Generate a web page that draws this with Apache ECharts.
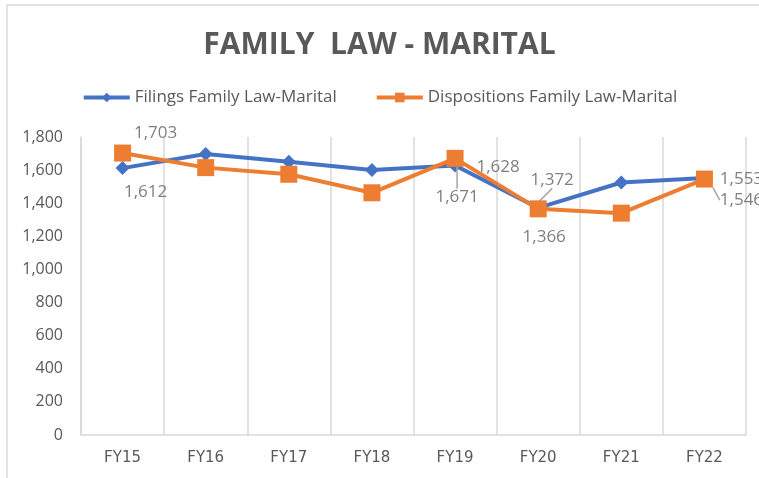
<!DOCTYPE html>
<html lang="en">
<head>
    <meta charset="utf-8">
    <title>Family Law - Marital</title>
    <script src="https://cdn.jsdelivr.net/npm/echarts@6/dist/echarts.min.js"></script>
    <style>
        html, body { margin: 0; padding: 0; background: #fff; }
    </style>
</head>
<body>
<div id="main" style="width: 759px;height:478px"></div>
<script>
    // data
    var categories = ['FY15', 'FY16', 'FY17', 'FY18', 'FY19', 'FY20', 'FY21', 'FY22'];
    var filings = [1612, 1697, 1651, 1601, 1628, 1372, 1525, 1553];
    var dispositions = [1703, 1615, 1575, 1463, 1671, 1366, 1340, 1546];
    var yTicks = [0, 200, 400, 600, 800, 1000, 1200, 1400, 1600, 1800];

    // which points carry a value label, and where the label sits (offset from the point)
    var filingLabels = {
        0: { dx: 23, dy: 24 },
        4: { dx: 43, dy: 2 },
        5: { dx: 14, dy: -28, line: true },
        7: { dx: 37, dy: 1 }
    };
    var dispLabels = {
        0: { dx: 33, dy: -20 },
        4: { dx: 2, dy: 39, line: true },
        5: { dx: 6, dy: 28 },
        7: { dx: 37, dy: 21, line: true }
    };

    var labelColor = '#7f7f7f';
    var textColor = '#595959';
    var gridColor = '#d9d9d9';

    function buildData(values, labels) {
        return values.map(function (v, i) {
            var l = labels[i];
            return {
                value: v,
                label: { show: !!l },
                labelLine: { show: !!(l && l.line) }
            };
        });
    }

    function layoutFor(labels) {
        return function (params) {
            var l = labels[params.dataIndex];
            if (!l) return {};
            return { dx: l.dx, dy: l.dy };
        };
    }

    var labelStyle = {
        position: 'inside',
        color: labelColor,
        fontSize: 17,
        fontFamily: 'Open Sans',
        formatter: function (p) { return p.value.toLocaleString('en-US'); }
    };

    var chart = echarts.init(document.getElementById('main'));
    var option = {
        backgroundColor: '#fff',
        animation: false,
        title: {
            text: 'FAMILY  LAW - MARITAL',
            left: 'center',
            top: 25,
            textStyle: {
                color: textColor,
                fontSize: 30,
                fontWeight: 'bold',
                fontFamily: 'Open Sans'
            }
        },
        legend: {
            top: 84,
            left: 'center',
            itemGap: 38,
            itemWidth: 46,
            itemHeight: 12,
            lineStyle: { width: 4 },
            textStyle: { color: textColor, fontSize: 17, fontFamily: 'Open Sans' },
            data: ['Filings Family Law-Marital', 'Dispositions Family Law-Marital']
        },
        grid: { left: 81, right: 13, top: 137, bottom: 43 },
        xAxis: {
            type: 'category',
            data: categories,
            boundaryGap: true,
            axisLine: { lineStyle: { color: gridColor, width: 1.5 } },
            axisTick: { show: false },
            splitLine: { show: true, lineStyle: { color: gridColor, width: 1.5 } },
            axisLabel: { color: textColor, fontSize: 15, fontFamily: 'DejaVu Sans', margin: 16 }
        },
        yAxis: {
            type: 'value',
            min: yTicks[0],
            max: yTicks[yTicks.length - 1],
            interval: 200,
            axisLine: { show: true, lineStyle: { color: gridColor, width: 1.5 } },
            axisTick: { show: false },
            splitLine: { show: false },
            axisLabel: {
                color: textColor,
                fontSize: 16,
                fontFamily: 'Open Sans',
                margin: 18,
                formatter: function (v) { return v.toLocaleString('en-US'); }
            }
        },
        graphic: [{
            type: 'rect',
            shape: { x: 7, y: 5, width: 800, height: 520 },
            style: { fill: 'none', stroke: gridColor, lineWidth: 1.5 },
            silent: true
        }],
        series: [{
            name: 'Filings Family Law-Marital',
            type: 'line',
            data: buildData(filings, filingLabels),
            symbol: 'diamond',
            symbolSize: 14,
            color: '#4472C4',
            lineStyle: { width: 4, color: '#4472C4' },
            label: labelStyle,
            labelLine: { lineStyle: { color: '#a6a6a6', width: 1.5 } },
            labelLayout: layoutFor(filingLabels),
            z: 3
        }, {
            name: 'Dispositions Family Law-Marital',
            type: 'line',
            data: buildData(dispositions, dispLabels),
            symbol: 'rect',
            symbolSize: 17,
            color: '#ED7D31',
            lineStyle: { width: 4, color: '#ED7D31' },
            label: labelStyle,
            labelLine: { lineStyle: { color: '#a6a6a6', width: 1.5 } },
            labelLayout: layoutFor(dispLabels),
            z: 4
        }]
    };
    chart.setOption(option);
</script>
</body>
</html>
